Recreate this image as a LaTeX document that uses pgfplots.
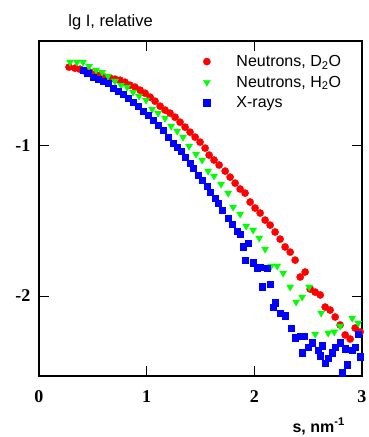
\documentclass[border=0pt]{standalone}
\usepackage{fontspec}
\setmainfont{Liberation Sans}
\newfontfamily\serifb{Liberation Serif}
\usepackage{pgfplots}
\pgfplotsset{compat=1.18}
\definecolor{mred}{RGB}{255,0,0}
\definecolor{mgreen}{RGB}{0,255,0}
\definecolor{mblue}{RGB}{0,0,255}
\begin{document}
\begin{tikzpicture}
\useasboundingbox (-39pt,-61pt) rectangle (329pt,376pt);
\begin{axis}[
  at={(0,0)}, anchor=south west,
  scale only axis, width=323pt, height=335pt,
  xmin=0, xmax=3, ymin=-2.53, ymax=-0.31,
  xtick={0,1,2,3}, xticklabels={0,1,2,3},
  ytick={-1,-2}, yticklabels={-1,-2},
  minor tick num=0,
  tick align=inside, major tick length=10pt,
  tick style={black, line width=0.8pt},
  axis line style={black, line width=1.1pt},
  tick label style={font=\serifb\bfseries\fontsize{18}{18}\selectfont},
  xticklabel style={yshift=-11pt},
  yticklabel style={xshift=-5pt},
  legend cell align=left,
  legend style={draw=none, fill=none, at={(0.508,0.964)}, anchor=north west,
    font=\fontsize{16}{16}\selectfont, row sep=4pt, column sep=24pt, inner sep=0pt},
  legend image code/.code={\draw[#1] plot coordinates {(0pt,0pt)};},
  clip=false,
]
\addplot[only marks, mark=*, color=mred, mark size=3.6pt] table {
0.279 -0.483
0.335 -0.490
0.381 -0.497
0.428 -0.510
0.474 -0.517
0.520 -0.530
0.567 -0.536
0.613 -0.550
0.660 -0.556
0.706 -0.563
0.753 -0.570
0.799 -0.583
0.846 -0.603
0.892 -0.616
0.939 -0.636
0.985 -0.656
1.032 -0.682
1.078 -0.709
1.125 -0.742
1.171 -0.768
1.217 -0.788
1.264 -0.815
1.310 -0.848
1.357 -0.881
1.403 -0.914
1.450 -0.947
1.496 -0.980
1.543 -1.020
1.580 -1.066
1.626 -1.099
1.673 -1.132
1.729 -1.172
1.775 -1.212
1.822 -1.252
1.868 -1.291
1.914 -1.318
1.961 -1.377
2.007 -1.417
2.054 -1.450
2.100 -1.497
2.147 -1.530
2.193 -1.576
2.240 -1.623
2.286 -1.675
2.333 -1.709
2.379 -1.762
2.426 -1.874
2.472 -1.841
2.519 -1.954
2.565 -1.974
2.612 -1.993
2.658 -2.073
2.704 -2.093
2.751 -2.139
2.797 -2.192
2.844 -2.258
2.890 -2.285
2.937 -2.212
2.983 -2.238
};
\addlegendentry{Neutrons, D\textsubscript{2}O}
\addplot[only marks, mark=triangle*, mark options={rotate=180}, color=mgreen, mark size=4pt] table {
0.288 -0.450
0.353 -0.450
0.409 -0.450
0.465 -0.477
0.530 -0.503
0.586 -0.517
0.641 -0.543
0.706 -0.576
0.762 -0.603
0.818 -0.616
0.874 -0.649
0.929 -0.675
0.994 -0.702
1.050 -0.762
1.106 -0.788
1.171 -0.821
1.227 -0.874
1.283 -0.907
1.338 -0.947
1.394 -1.007
1.459 -1.060
1.515 -1.099
1.571 -1.172
1.626 -1.205
1.691 -1.258
1.757 -1.318
1.803 -1.411
1.868 -1.457
1.924 -1.536
1.989 -1.563
2.045 -1.616
2.100 -1.689
2.156 -1.801
2.212 -1.801
2.268 -1.848
2.333 -1.940
2.388 -2.040
2.444 -2.007
2.509 -1.940
2.565 -2.252
2.621 -2.113
2.686 -2.245
2.742 -2.238
2.797 -2.199
2.909 -2.146
2.965 -2.179
};
\addlegendentry{Neutrons, H\textsubscript{2}O}
\addplot[only marks, mark=square*, color=mblue, mark size=3.3pt] table {
0.409 -0.503
0.455 -0.523
0.502 -0.550
0.548 -0.563
0.595 -0.576
0.641 -0.589
0.688 -0.623
0.734 -0.642
0.781 -0.662
0.827 -0.689
0.874 -0.715
0.920 -0.742
0.967 -0.775
1.013 -0.801
1.059 -0.834
1.106 -0.868
1.152 -0.901
1.199 -0.947
1.245 -0.987
1.283 -1.013
1.320 -1.040
1.357 -1.079
1.403 -1.119
1.431 -1.152
1.478 -1.199
1.515 -1.232
1.561 -1.272
1.589 -1.311
1.636 -1.351
1.664 -1.384
1.701 -1.430
1.757 -1.483
1.794 -1.523
1.840 -1.570
1.868 -1.589
1.896 -1.675
1.942 -1.649
1.914 -1.762
1.989 -1.781
2.026 -1.815
2.054 -1.808
2.119 -1.815
2.072 -1.940
2.147 -1.921
2.193 -2.046
2.175 -2.073
2.240 -2.113
2.286 -2.132
2.342 -2.212
2.379 -2.278
2.426 -2.265
2.463 -2.265
2.444 -2.377
2.500 -2.338
2.537 -2.311
2.593 -2.358
2.630 -2.331
2.612 -2.397
2.658 -2.444
2.686 -2.411
2.723 -2.377
2.751 -2.338
2.797 -2.311
2.816 -2.510
2.844 -2.351
2.862 -2.457
2.909 -2.358
2.937 -2.338
2.965 -2.252
2.983 -2.404
};
\addlegendentry{X-rays}
\end{axis}
\node[anchor=base east, font=\fontsize{16.5}{16.5}\selectfont, inner sep=0pt] at (114pt,349pt) {lg I, relative};
\node[anchor=base east, font=\bfseries\fontsize{16}{16}\selectfont, inner sep=0pt] at (306pt,-56pt) {s, nm\textsuperscript{-1}};
\end{tikzpicture}
\end{document}
